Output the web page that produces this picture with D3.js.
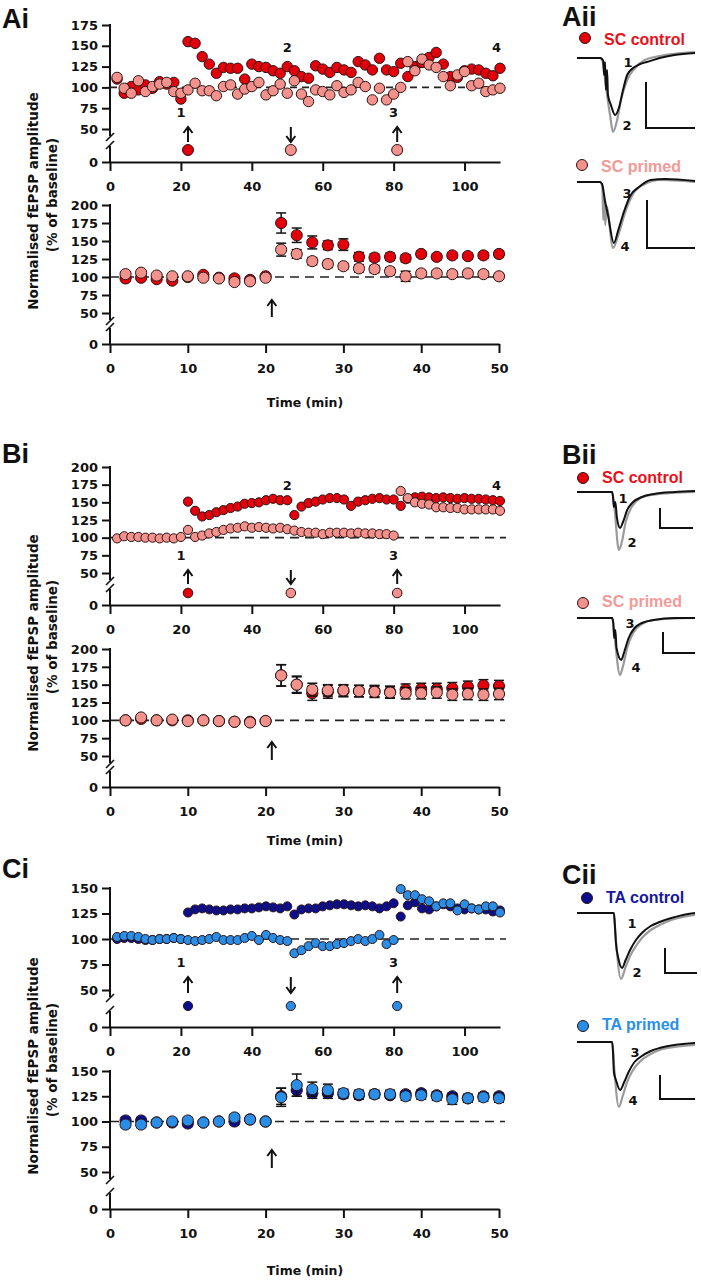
<!DOCTYPE html>
<html><head><meta charset="utf-8">
<script src="https://cdn.jsdelivr.net/npm/d3@7"></script>
<style>
body{margin:0;background:#fff}
svg{display:block}
text{font-weight:bold;fill:#111}
</style></head>
<body><svg id="c" width="701" height="1280"></svg>
<script>
// ---------------- DATA ----------------
const timeTopFull = [2,4,6,8,10,12,14,16,18,20,22,24,26,28,30,32,34,36,38,40,42,44,46,48,50,52,54,56,58,60,62,64,66,68,70,72,74,76,78,80,82,84,86,88,90,92,94,96,98,100,102,104,106,108,110];
const timeTopPost = [22,24,26,28,30,32,34,36,38,40,42,44,46,48,50,52,54,56,58,60,62,64,66,68,70,72,74,76,78,80,82,84,86,88,90,92,94,96,98,100,102,104,106,108,110];
const timeBottom = [2,4,6,8,10,12,14,16,18,20,22,24,26,28,30,32,34,36,38,40,42,44,46,48,50];

const xTicksTop = [0,20,40,60,80,100];
const xTicksBottom = [0,10,20,30,40,50];
const yTicksA = [0,50,75,100,125,150,175];
const yTicksB = [0,50,75,100,125,150,175,200];
const yTicksC = [0,50,75,100,125,150];

// Ai top (single experiment)
const aTopControl = [110,93,101,97,103,99,107,104,106,86,155,153,137,128,117,124,123,123,110,128,125,124,120,117,125,120,113,111,126,122,118,124,121,118,131,127,121,135,121,119,129,113,125,130,136,142,128,113,112,120,122,121,117,114,123];
const aTopPrimed = [112,99,93,108,95,101,104,106,95,93,97,105,96,96,90,101,103,92,98,101,106,91,96,104,93,108,92,83,97,95,91,102,94,97,106,101,85,99,85,92,100,131,120,134,127,124,113,102,115,119,102,105,95,97,99];
// Ai bottom (mean ± SEM)
const aBotControl = [98,99,97,95,100,103,99,98,96,101,175,158,148,144,145,128,127,128,126,132,128,130,129,130,132];
const aBotControlErr = [2,2,2,3,2,3,2,3,3,2,14,10,9,6,8,6,5,5,5,4,4,4,4,4,4];
const aBotPrimed = [104,106,102,101,101,99,98,93,94,99,138,132,122,118,115,112,111,108,101,105,105,104,105,104,101];
const aBotPrimedErr = [3,3,3,3,2,3,3,3,3,2,9,6,5,5,4,5,5,5,7,4,4,4,4,4,4];

// Bi top
const bTopControl = [151,138,130,132,136,139,142,144,148,149,150,153,155,153,153,132,144,149,151,154,156,156,154,145,151,153,155,156,154,154,145,155,157,158,157,156,157,156,155,156,155,155,154,153,152];
const bTopPrimed = [99,102,101,101,100,100,99,100,99,101,111,101,103,106,108,111,113,114,116,114,115,114,113,114,112,110,108,107,107,105,107,107,107,106,107,106,106,105,105,103,166,156,150,148,147,143,143,142,142,140,140,140,140,140,138];
// Bi bottom
const bBotControl = [100,102,100,100,100,100,99,98,98,99,163,150,138,140,141,141,141,140,143,144,144,145,147,149,148];
const bBotControlErr = [2,2,2,2,2,2,2,2,2,2,15,12,10,9,8,8,8,8,8,8,8,8,8,8,8];
const bBotPrimed = [100,104,100,101,99,100,99,98,97,99,163,150,143,142,142,141,140,139,138,138,139,136,137,136,137];
const bBotPrimedErr = [2,3,2,2,2,2,2,2,2,2,15,11,9,8,8,8,8,8,8,8,8,8,8,8,8];

// Ci top
const cTopControl = [100,101,101,100,99,99,100,100,101,100,126,129,130,129,128,128,129,129,130,130,131,132,131,130,132,124,129,130,130,132,133,134,134,133,132,133,132,130,132,135,122,133,136,130,129,132,134,132,130,129,130,129,129,127,128];
const cTopPrimed = [102,103,103,102,100,99,100,100,101,100,99,98,99,100,102,99,99,99,101,103,99,104,101,99,98,86,89,93,96,93,93,95,96,98,100,98,100,104,95,99,149,143,143,139,137,132,135,135,128,134,130,129,132,132,126];
// Ci bottom
const cBotControl = [101,101,99,99,98,99,100,100,102,100,125,131,128,128,127,126,127,126,127,128,126,125,123,125,125];
const cBotControlErr = [3,3,2,2,3,2,2,3,3,2,8,6,5,5,4,4,3,3,3,3,3,3,3,3,3];
const cBotPrimed = [97,97,99,100,101,99,100,104,102,100,124,136,132,131,128,127,127,127,125,126,125,122,123,124,123];
const cBotPrimedErr = [3,3,3,3,3,2,2,3,3,2,9,11,7,6,4,4,4,4,4,4,4,5,4,4,4];

// event annotations (top panels)
const eventTimes = [22,51,81];
const eventDirs = ["up","down","up"];
const sampleLabels = ["1","2","3","4"];
const sampleLabelTimes = [20,50,80,109];

// example fEPSP traces: [ms, mV]
const trA1black = [[0,0],[7.8,0],[8.8,-0.02],[9.2,-0.17],[9.5,-0.04],[9.8,-0.32],[10.2,-0.12],[10.5,-0.37],[11.5,-0.47],[12.9,-0.57],[14.2,-0.5],[15.6,-0.32],[17,-0.17],[19,-0.1],[21.4,-0.06],[23.7,-0.04],[28,0],[33,0.03],[40,0.05]];
const trA1gray = [[0,0],[7.8,0],[8.8,-0.04],[9.8,-0.28],[11.2,-0.57],[12.2,-0.74],[13.6,-0.62],[14.9,-0.42],[17,-0.22],[19.7,-0.1],[23,-0.02],[28,0.02],[40,0.06]];
const trA2black = [[0,0],[7.8,0],[8.5,-0.02],[9.5,-0.19],[10.5,-0.33],[12.5,-0.61],[14,-0.48],[16,-0.29],[18,-0.14],[21,-0.05],[25,0.02],[30,0.03],[40,0.01]];
const trA2gray = [[0,0],[7.8,0],[8.6,-0.05],[8.9,-0.38],[9.2,-0.14],[9.6,-0.43],[10,-0.24],[12.2,-0.66],[14,-0.53],[16.5,-0.29],[19,-0.12],[23,-0.02],[28,0.02],[40,0]];
const trB1black = [[0,0],[11.9,0],[12.2,-0.05],[12.5,-0.15],[13,-0.1],[13.5,-0.25],[14.6,-0.36],[15.6,-0.3],[17,-0.18],[19,-0.1],[22,-0.05],[26,-0.02],[33,0],[40,0.01]];
const trB1gray = [[0,0],[11.9,0],[12.5,-0.1],[14.2,-0.58],[15.2,-0.5],[16.5,-0.3],[18.5,-0.15],[21,-0.07],[25,-0.03],[32,-0.01],[40,0]];
const trB2black = [[0,0],[11.9,0],[12.3,-0.05],[12.6,-0.2],[13,-0.12],[13.4,-0.3],[15,-0.42],[16,-0.34],[17.5,-0.2],[19.5,-0.1],[22,-0.05],[26,-0.02],[33,0],[40,0]];
const trB2gray = [[0,0],[12,0],[12.6,-0.15],[14.6,-0.57],[15.6,-0.48],[17,-0.3],[19,-0.15],[22,-0.06],[26,-0.02],[40,0]];
const trC1black = [[0,0],[12.5,0],[12.8,-0.1],[13.2,-0.3],[14,-0.45],[15.3,-0.55],[16.5,-0.47],[18,-0.37],[20,-0.27],[22,-0.2],[25,-0.13],[28,-0.09],[32,-0.05],[36,-0.02],[40,0]];
const trC1gray = [[0,0],[12.5,0],[13,-0.2],[14.9,-0.66],[16.5,-0.54],[18,-0.43],[20,-0.33],[22,-0.25],[25,-0.17],[28,-0.12],[32,-0.07],[36,-0.04],[40,-0.02]];
const trC2black = [[0,0],[11.9,0],[12.2,-0.1],[12.5,-0.3],[13.2,-0.38],[14.6,-0.48],[16,-0.4],[17.5,-0.3],[19.5,-0.2],[21.5,-0.15],[25,-0.09],[28,-0.06],[33,-0.03],[40,-0.01]];
const trC2gray = [[0,0],[12,0],[12.6,-0.25],[14.2,-0.65],[15.5,-0.54],[17,-0.4],[19,-0.28],[21.5,-0.19],[25,-0.12],[28,-0.08],[33,-0.05],[40,-0.03]];

// ---------------- STYLE ----------------
const COL = {red:"#e3000b", pink:"#f3918d", navy:"#0c0e8c", sky:"#2a8de6",
             redTxt:"#e8101a", pinkTxt:"#f39a98", navyTxt:"#1616a0", skyTxt:"#2a90e8"};
const F_MAIN = "'DejaVu Sans', sans-serif";
const F_ARIAL = "'Liberation Sans', Arial, sans-serif";

const svg = d3.select("#c");

function txt(sel, size, fam){
  return sel.style("font-family", fam || F_MAIN).style("font-size", size+"px").style("font-weight","bold");
}

function styleAxis(g){
  g.selectAll("line,path").attr("stroke","#111").attr("stroke-width",2);
  txt(g.selectAll("text"), 13).style("fill","#111");
}

function panel(cfg){
  const g = svg.append("g");
  const x = d3.scaleLinear().domain(cfg.xDomain).range(cfg.xRange);
  const y = d3.scaleLinear().domain(cfg.yDomain).range(cfg.yRange);
  g.append("line").attr("x1",x(0)).attr("x2",x(cfg.xDomain[1])+cfg.dashExt)
    .attr("y1",y(100)).attr("y2",y(100))
    .attr("stroke","#222").attr("stroke-width",1.6).attr("stroke-dasharray",cfg.dash);
  const xa = g.append("g").attr("transform",`translate(0,${y(0)})`)
    .call(d3.axisBottom(x).tickValues(cfg.xTicks).tickSize(9).tickPadding(11).tickSizeOuter(0));
  styleAxis(xa);
  const ya = g.append("g").attr("transform",`translate(${x(0)},0)`)
    .call(d3.axisLeft(y).tickValues(cfg.yTicks).tickSize(8).tickPadding(4));
  ya.select(".domain").remove();
  styleAxis(ya);
  const ax = x(0);
  const yTop = y(cfg.yDomain[2]), y50 = y(50), y0 = y(0);
  const gapA = y50 + 7, gapB = y0 - 16;
  g.append("line").attr("x1",ax).attr("x2",ax).attr("y1",yTop-1).attr("y2",gapA).attr("stroke","#111").attr("stroke-width",2);
  g.append("line").attr("x1",ax).attr("x2",ax).attr("y1",gapB).attr("y2",y0).attr("stroke","#111").attr("stroke-width",2);
  [gapA+1, gapB-1].forEach(yy=>{
    g.append("line").attr("x1",ax-4).attr("y1",yy+4).attr("x2",ax+4).attr("y2",yy-4)
      .attr("stroke","#111").attr("stroke-width",1.6);
  });
  cfg.series.forEach(s=>{
    const pts = s.time.map((t,i)=>({t, v:s.values[i], e: s.err ? s.err[i] : 0}));
    if(s.err){
      const eg = g.append("g").attr("stroke","#111").attr("stroke-width",1.5);
      pts.filter(p=>p.e>0).forEach(p=>{
        eg.append("line").attr("x1",x(p.t)).attr("x2",x(p.t)).attr("y1",y(p.v+p.e)).attr("y2",y(p.v-p.e));
        eg.append("line").attr("x1",x(p.t)-5).attr("x2",x(p.t)+5).attr("y1",y(p.v+p.e)).attr("y2",y(p.v+p.e));
        eg.append("line").attr("x1",x(p.t)-5).attr("x2",x(p.t)+5).attr("y1",y(p.v-p.e)).attr("y2",y(p.v-p.e));
      });
    }
    g.append("g").selectAll("circle").data(pts).join("circle")
      .attr("cx",d=>x(d.t)).attr("cy",d=>y(d.v)).attr("r",cfg.r)
      .attr("fill",s.color).attr("stroke","#2a1414").attr("stroke-width",1);
  });
  return {g,x,y};
}

function arrow(g, x, yA, yB, dir){
  g.append("line").attr("x1",x).attr("x2",x).attr("y1",yA).attr("y2",yB).attr("stroke","#111").attr("stroke-width",2);
  const tip = dir==="up" ? yA : yB;
  const s = dir==="up" ? 1 : -1;
  g.append("path").attr("d",`M${x-4.5},${tip+6*s}L${x},${tip}L${x+4.5},${tip+6*s}`)
    .attr("fill","none").attr("stroke","#111").attr("stroke-width",2);
}

function topAnnot(p, cfg){
  const {g,x} = p;
  eventTimes.forEach((t,i)=>{
    arrow(g, x(t), cfg.arrowTop, cfg.arrowBot, eventDirs[i]);
    g.append("circle").attr("cx",x(t)).attr("cy",cfg.circY).attr("r",cfg.circR)
      .attr("fill", i===0 ? cfg.ctrlColor : cfg.primColor).attr("stroke","#2a1414").attr("stroke-width",1);
  });
  sampleLabels.forEach((l,i)=>{
    if(!cfg.showLabels.includes(l)) return;
    const yy = (i===0||i===2) ? cfg.lowLabelY : cfg.highLabelY;
    txt(g.append("text").attr("x",x(sampleLabelTimes[i])).attr("y",yy).attr("text-anchor","middle"),13).text(l);
  });
}

function bottomExtras(p, cfg){
  arrow(p.g, p.x(20.8), cfg.arrowTop, cfg.arrowBot, "up");
  txt(p.g.append("text").attr("x",305).attr("y",cfg.timeY).attr("text-anchor","middle"),12.5).text("Time (min)");
}

function yTitle(cy){
  txt(svg.append("text").attr("transform",`translate(38,${cy}) rotate(-90)`).attr("text-anchor","middle"),13.5)
    .text("Normalised fEPSP amplitude");
  txt(svg.append("text").attr("transform",`translate(57,${cy-6}) rotate(-90)`).attr("text-anchor","middle"),13.5)
    .text("(% of baseline)");
}

function panelLabel(t,x,y){
  txt(svg.append("text").attr("x",x).attr("y",y),27,F_ARIAL).text(t);
}

// ---------- A ----------
const pAt = panel({xDomain:[0,110], xRange:[110,500], yDomain:[0,50,175], yRange:[162,129,25],
  xTicks:xTicksTop, yTicks:yTicksA, r:5.2, dash:"7,5", dashExt:0,
  series:[{time:timeTopFull, values:aTopControl, color:COL.red},{time:timeTopFull, values:aTopPrimed, color:COL.pink}]});
topAnnot(pAt,{arrowTop:127,arrowBot:142,circY:150,circR:5.5,ctrlColor:COL.red,primColor:COL.pink,
  showLabels:["1","2","3","4"], lowLabelY:117, highLabelY:52});
const pAb = panel({xDomain:[0,50], xRange:[110,499], yDomain:[0,50,200], yRange:[344,313,205],
  xTicks:xTicksBottom, yTicks:yTicksB, r:5.6, dash:"9,6", dashExt:6,
  series:[{time:timeBottom, values:aBotControl, err:aBotControlErr, color:COL.red},{time:timeBottom, values:aBotPrimed, err:aBotPrimedErr, color:COL.pink}]});
bottomExtras(pAb,{arrowTop:300,arrowBot:317,timeY:407});
yTitle(201);

// ---------- B ----------
const pBt = panel({xDomain:[0,110], xRange:[110,500], yDomain:[0,50,200], yRange:[605,573,467],
  xTicks:xTicksTop, yTicks:yTicksB, r:4.6, dash:"9,6", dashExt:6,
  series:[{time:timeTopPost, values:bTopControl, color:COL.red},{time:timeTopFull, values:bTopPrimed, color:COL.pink}]});
topAnnot(pBt,{arrowTop:570,arrowBot:584,circY:593,circR:4.8,ctrlColor:COL.red,primColor:COL.pink,
  showLabels:["1","2","3","4"], lowLabelY:560, highLabelY:490});
const pBb = panel({xDomain:[0,50], xRange:[110,499], yDomain:[0,50,200], yRange:[787,756,649],
  xTicks:xTicksBottom, yTicks:yTicksB, r:5.6, dash:"9,6", dashExt:6,
  series:[{time:timeBottom, values:bBotControl, err:bBotControlErr, color:COL.red},{time:timeBottom, values:bBotPrimed, err:bBotPrimedErr, color:COL.pink}]});
bottomExtras(pBb,{arrowTop:742,arrowBot:760,timeY:845});
yTitle(643);

// ---------- C ----------
const pCt = panel({xDomain:[0,110], xRange:[110,500], yDomain:[0,50,150], yRange:[1027,990,888],
  xTicks:xTicksTop, yTicks:yTicksC, r:4.5, dash:"9,6", dashExt:6,
  series:[{time:timeTopFull, values:cTopControl, color:COL.navy},{time:timeTopFull, values:cTopPrimed, color:COL.sky}]});
topAnnot(pCt,{arrowTop:977,arrowBot:993,circY:1006,circR:4.6,ctrlColor:COL.navy,primColor:COL.sky,
  showLabels:["1","3"], lowLabelY:967, highLabelY:0});
const pCb = panel({xDomain:[0,50], xRange:[110,499], yDomain:[0,50,150], yRange:[1209,1172,1071],
  xTicks:xTicksBottom, yTicks:yTicksC, r:5.6, dash:"9,6", dashExt:6,
  series:[{time:timeBottom, values:cBotControl, err:cBotControlErr, color:COL.navy},{time:timeBottom, values:cBotPrimed, err:cBotPrimedErr, color:COL.sky}]});
bottomExtras(pCb,{arrowTop:1150,arrowBot:1168,timeY:1275});
yTitle(1066);

panelLabel("Ai",2,28); panelLabel("Bi",2,463); panelLabel("Ci",2,878);
panelLabel("Aii",562,26); panelLabel("Bii",562,464); panelLabel("Cii",562,884);

// ---------- traces ----------
const tx = d3.scaleLinear().domain([0,40]).range([577,695]);
function tracePanel(cfg){
  const ty = d3.scaleLinear().domain([0,-1]).range([cfg.base, cfg.base+100]);
  const line = d3.line().x(d=>tx(d[0])).y(d=>ty(d[1])).curve(d3.curveMonotoneX);
  svg.append("path").attr("d",line(cfg.gray)).attr("fill","none").attr("stroke","#9a9a9a").attr("stroke-width",2.2);
  svg.append("path").attr("d",line(cfg.black)).attr("fill","none").attr("stroke","#111").attr("stroke-width",2);
  const sb = cfg.bar;
  svg.append("path").attr("d",`M${sb[0]},${sb[1]}V${sb[2]}H${sb[3]}`).attr("fill","none").attr("stroke","#111").attr("stroke-width",2);
  svg.append("circle").attr("cx",cfg.leg[0]).attr("cy",cfg.leg[1]).attr("r",5.5).attr("fill",cfg.color).attr("stroke","#2a1414").attr("stroke-width",1);
  txt(svg.append("text").attr("x",cfg.leg[0]+19).attr("y",cfg.leg[2]),16,F_ARIAL).style("fill",cfg.txtColor).text(cfg.name);
  cfg.nums.forEach(n=>{
    txt(svg.append("text").attr("x",n[1]).attr("y",n[2]).attr("text-anchor","middle"),13).text(n[0]);
  });
}
tracePanel({base:58, black:trA1black, gray:trA1gray, bar:[646,82,128,695], leg:[585,38,45], color:COL.red, txtColor:COL.redTxt, name:"SC control", nums:[["1",628,67],["2",627,130]]});
tracePanel({base:182, black:trA2black, gray:trA2gray, bar:[647,200,248,695], leg:[582,165,172], color:COL.pink, txtColor:COL.pinkTxt, name:"SC primed", nums:[["3",627,198],["4",625,251]]});
tracePanel({base:492, black:trB1black, gray:trB1gray, bar:[660,508,528,693], leg:[583,478,483], color:COL.red, txtColor:COL.redTxt, name:"SC control", nums:[["1",623,503],["2",632,547]]});
tracePanel({base:618, black:trB2black, gray:trB2gray, bar:[663,632,653,695], leg:[583,603,607], color:COL.pink, txtColor:COL.pinkTxt, name:"SC primed", nums:[["3",630,628],["4",636,672]]});
tracePanel({base:913, black:trC1black, gray:trC1gray, bar:[665,948,973,697], leg:[587,898,903], color:COL.navy, txtColor:COL.navyTxt, name:"TA control", nums:[["1",632,928],["2",637,977]]});
tracePanel({base:1042, black:trC2black, gray:trC2gray, bar:[660,1075,1099,695], leg:[583,1026,1030], color:COL.sky, txtColor:COL.skyTxt, name:"TA primed", nums:[["3",635,1057],["4",633,1105]]});
</script>
</body></html>
